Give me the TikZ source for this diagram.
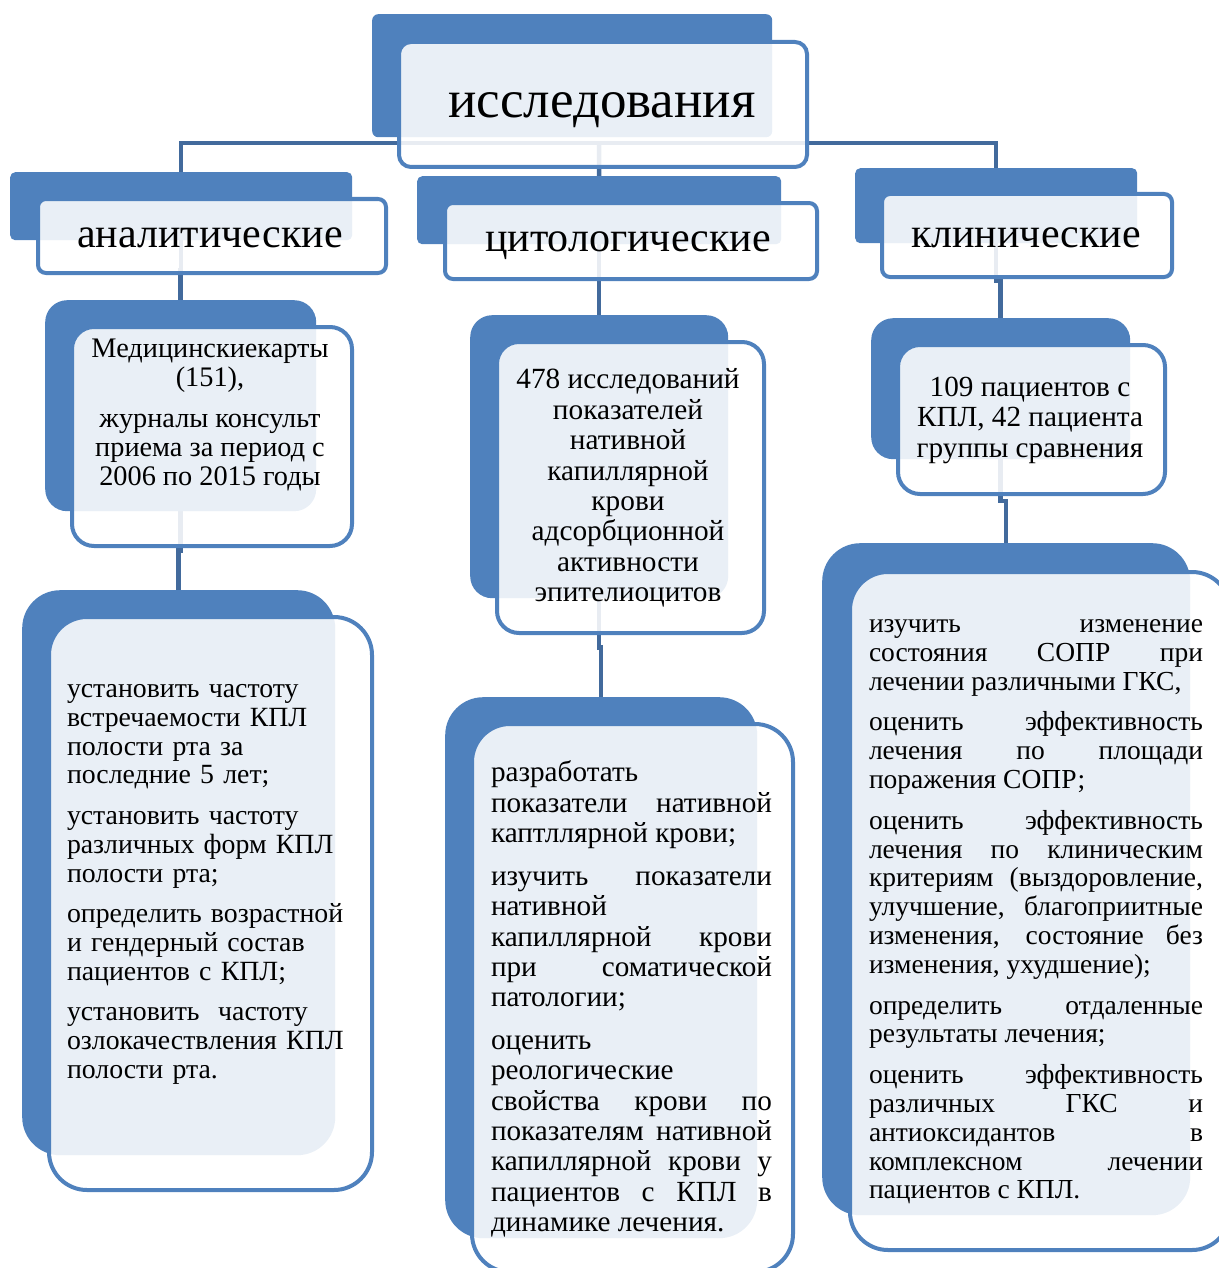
\documentclass[tikz,border=0pt]{standalone}
\usepackage{fontspec}
\setmainfont{Liberation Serif}
\usepackage{xcolor}
\usetikzlibrary{positioning, calc}

\definecolor{boxblue}{RGB}{79,129,189}
\definecolor{linkblue}{RGB}{66,106,156}
\pgfdeclarelayer{bg}
\pgfsetlayers{bg,main}
\setlength{\parindent}{0pt}
\hyphenpenalty=10000
\exhyphenpenalty=10000

\begin{document}
\begin{tikzpicture}[x=1pt, y=-1pt]
	% Styles
	\tikzstyle{back} = [fill=boxblue, inner sep=0pt, anchor=north west]
	\tikzstyle{front} = [draw=boxblue, line width=4pt, fill=white, fill opacity=0.88, inner sep=0pt, anchor=north west]
	\tikzstyle{txt} = [inner sep=0pt, text=black]
	\tikzstyle{link} = [draw=linkblue, line width=4.5pt]

	\useasboundingbox (0,0) rectangle (1218,1268);

	% Top
	\node (topB) [back, rounded corners=6pt, minimum width=400pt, minimum height=123pt] at (372,14) {};
	\node (topF) [front, rounded corners=12pt, minimum width=408pt, minimum height=125pt] at (397,40) {};
	\node (topT) [txt, anchor=base, font=\fontsize{53}{60}\selectfont] at (602,118) {исследования};

	% Second row
	\node (anB) [back, rounded corners=5pt, minimum width=342pt, minimum height=68pt] at (10,172) {};
	\node (anF) [front, rounded corners=8pt, minimum width=348pt, minimum height=74pt] at (36,197) {};
	\node (anT) [txt, anchor=base, font=\fontsize{42}{48}\selectfont] at (210,247) {аналитические};

	\node (cyB) [back, rounded corners=5pt, minimum width=364pt, minimum height=68pt] at (417,176) {};
	\node (cyF) [front, rounded corners=8pt, minimum width=372pt, minimum height=76pt] at (443,201) {};
	\node (cyT) [txt, anchor=base, font=\fontsize{42}{48}\selectfont] at (628,251) {цитологические};

	\node (clB) [back, rounded corners=5pt, minimum width=282pt, minimum height=75pt] at (855,168) {};
	\node (clF) [front, rounded corners=8pt, minimum width=290pt, minimum height=83pt] at (880,192) {};
	\node (clT) [txt, anchor=base, font=\fontsize{42}{48}\selectfont] at (1026,247) {клинические};

	% Third row
	\node (medB) [back, rounded corners=22pt, minimum width=271pt, minimum height=211pt] at (45,300) {};
	\node (medF) [front, rounded corners=22pt, minimum width=280pt, minimum height=219pt] at (70,325) {};
	\node (medT) [txt, align=center, font=\fontsize{28.3}{28.8}\selectfont] at (210,415)
		{Медицинскиекарты\\(151),\\[12pt]журналы консульт\\приема за период с\\2006 по 2015 годы};

	\node (cellB) [back, rounded corners=22pt, minimum width=258pt, minimum height=283pt] at (470,315) {};
	\node (cellF) [front, rounded corners=22pt, minimum width=267pt, minimum height=291pt] at (495,340) {};
	\node (cellT) [txt, align=center, font=\fontsize{29.3}{30.4}\selectfont] at (628,488)
		{478 исследований\\показателей\\нативной\\капиллярной\\крови\\адсорбционной\\активности\\эпителиоцитов};

	\node (ptsB) [back, rounded corners=22pt, minimum width=259pt, minimum height=141pt] at (871,318) {};
	\node (ptsF) [front, rounded corners=22pt, minimum width=267pt, minimum height=149pt] at (896,343) {};
	\node (ptsT) [txt, align=center, font=\fontsize{29.2}{30.5}\selectfont] at (1030,420)
		{109 пациентов с\\КПЛ, 42 пациента\\группы сравнения};

	% Bottom row
	\node (lowaB) [back, rounded corners=38pt, minimum width=313pt, minimum height=565pt] at (22,590) {};
	\node (lowaF) [front, rounded corners=38pt, minimum width=323pt, minimum height=573pt] at (47,615) {};
	\node (lowaT) [txt, text width=290pt, align=left, font=\fontsize{27.8}{28.7}\selectfont] at (212,884.5)
		{установить частоту\\встречаемости КПЛ\\полости рта за\\последние 5 лет;\\[12pt]
		установить частоту\\различных форм КПЛ\\полости рта;\\[12pt]
		определить возрастной\\и гендерный состав\\пациентов с КПЛ;\\[12pt]
		установить~ частоту\\озлокачествления КПЛ\\полости рта.};

	\node (lowbB) [back, rounded corners=38pt, minimum width=312pt, minimum height=541pt] at (445,697) {};
	\node (lowbF) [front, rounded corners=38pt, minimum width=321pt, minimum height=548pt] at (470,722) {};
	\node (lowbT) [txt, text width=281pt, align=justify, font=\fontsize{29.2}{30.3}\selectfont] at (631.5,999)
		{\parskip=12.7pt \tolerance=10000
		разработать\linebreak показатели нативной\linebreak каптллярной крови;\par
		изучить показатели\linebreak нативной\linebreak капиллярной крови\linebreak при соматической\linebreak патологии;\par
		оценить\linebreak реологические\linebreak свойства крови по\linebreak показателям нативной\linebreak капиллярной крови у\linebreak пациентов с КПЛ в\linebreak динамике лечения.\par};

	\node (lowcB) [back, rounded corners=38pt, minimum width=368pt, minimum height=672pt] at (822,543) {};
	\node (lowcF) [front, rounded corners=38pt, minimum width=380pt, minimum height=678pt] at (848,570) {};
	\node (lowcT) [txt, text width=334pt, align=justify, font=\fontsize{27.5}{28.9}\selectfont] at (1036,912)
		{\parskip=11.5pt \tolerance=10000
		изучить изменение\linebreak состояния СОПР при\linebreak лечении различными ГКС,\par
		оценить эффективность\linebreak лечения по площади\linebreak поражения СОПР;\par
		оценить эффективность\linebreak лечения по клиническим\linebreak критериям (выздоровление,\linebreak улучшение, благоприитные\linebreak изменения, состояние без\linebreak изменения, ухудшение);\par
		определить отдаленные\linebreak результаты лечения;\par
		оценить эффективность\linebreak различных ГКС и\linebreak антиоксидантов в\linebreak комплексном лечении\linebreak пациентов с КПЛ.\par};

	% Connections
	\coordinate (bus) at (599,143);
	\begin{pgfonlayer}{bg}
		\draw [link] (anB.north) |- (bus) -| (clB.north);
		\draw [link] (bus) -- (cyB.north);
		\draw [link] (anB.south) |- ($(anB.south)!.5!(medB.north)$) -| (medB.north);
		\draw [link] (medB.south) |- ($(medB.south)!.5!(lowaB.north)$) -| (lowaB.north);
		\draw [link] (cyB.south) |- ($(cyB.south)!.5!(cellB.north)$) -| (cellB.north);
		\draw [link] (cellB.south) |- ($(cellB.south)!.5!(lowbB.north)$) -| (lowbB.north);
		\draw [link] (clB.south) |- ($(clB.south)!.5!(ptsB.north)$) -| (ptsB.north);
		\draw [link] (ptsB.south) |- ($(ptsB.south)!.5!(lowcB.north)$) -| (lowcB.north);
	\end{pgfonlayer}
\end{tikzpicture}
\end{document}
